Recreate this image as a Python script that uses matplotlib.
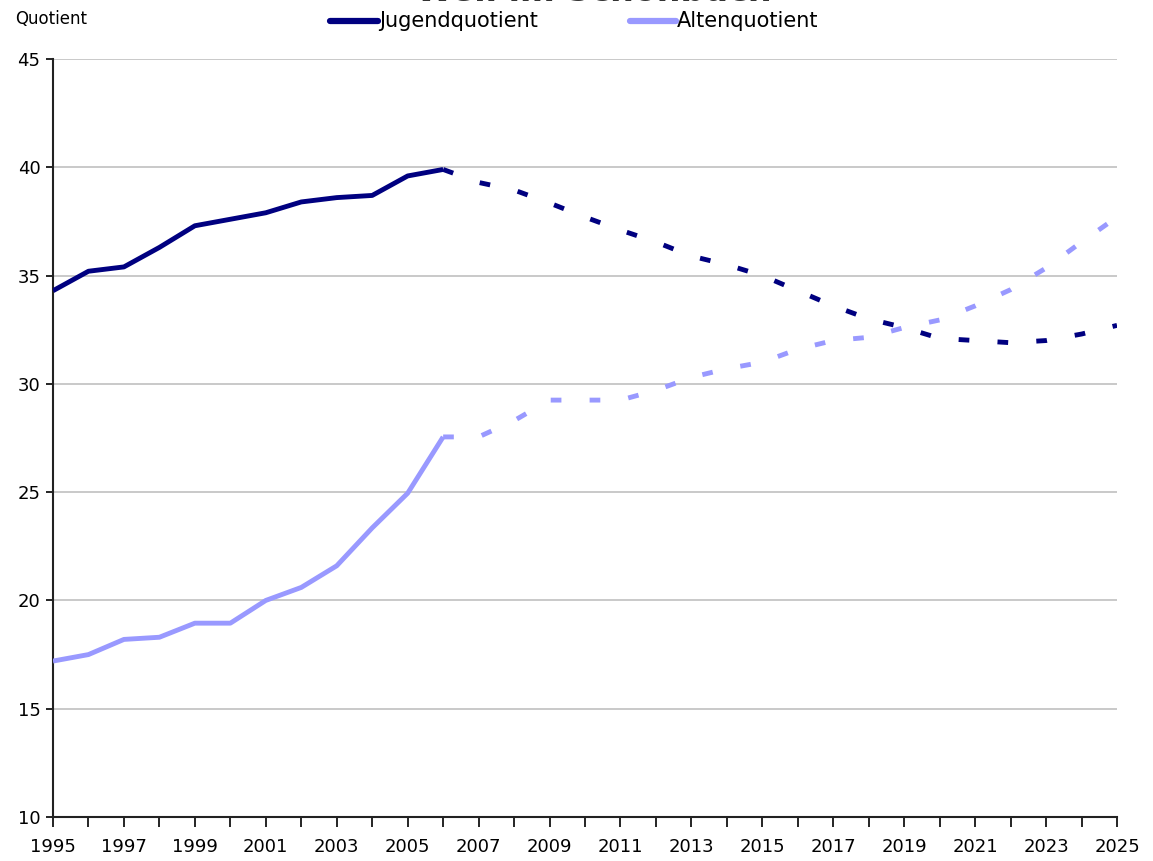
#!/usr/bin/env python3
"""Jugend- und Altenquotient 1995-2025 (ab 2007 Vorausrechnung, gestrichelt)."""
import matplotlib
matplotlib.use("Agg")
import matplotlib.pyplot as plt
from matplotlib.lines import Line2D

years = list(range(1995, 2026))
jugend = [34.3, 35.2, 35.4, 36.3, 37.3, 37.6, 37.9, 38.4, 38.6, 38.7, 39.6, 39.9,
          39.3, 38.95, 38.35, 37.7, 37.1, 36.55, 35.9, 35.5, 35.0, 34.3, 33.6,
          33.0, 32.6, 32.1, 32.0, 31.9, 32.0, 32.3, 32.7]
alten = [17.2, 17.5, 18.2, 18.3, 18.95, 18.95, 20.0, 20.6, 21.6, 23.35, 24.95, 27.55,
         27.55, 28.3, 29.25, 29.25, 29.25, 29.7, 30.3, 30.7, 31.0, 31.6, 32.0,
         32.15, 32.6, 32.95, 33.6, 34.35, 35.35, 36.55, 37.7]
last_actual = 2006
series_names = ["Jugendquotient", "Altenquotient"]
xtick_labels = [str(y) for y in range(1995, 2026, 2)]

c_jugend = "#000080"
c_alten = "#9999ff"

plt.rcParams["font.family"] = ["DejaVu Sans"]

W, H = 1153, 861
fig = plt.figure(figsize=(W / 100, H / 100), dpi=100)
ax = fig.add_axes([53 / W, 1 - 817 / H, 1064 / W, 758 / H])

split = years.index(last_actual) + 1
dash = (0, (2.2, 5.8))
lw = 3.5
for vals, col in ((jugend, c_jugend), (alten, c_alten)):
    ax.plot(years[:split], vals[:split], color=col, lw=lw, solid_capstyle="butt", zorder=3)
    ax.plot(years[split - 1:], vals[split - 1:], color=col, lw=lw, linestyle=dash,
            dash_capstyle="butt", zorder=3)

ax.set_xlim(1995, 2025)
ax.set_ylim(10, 45)
ax.set_yticks(range(10, 46, 5))
ax.set_xticks(years, minor=True)
ax.set_xticks(range(1995, 2026, 2))
ax.set_xticklabels(xtick_labels)
ax.tick_params(axis="x", which="both", direction="out", length=7, width=1.2, pad=8,
               labelsize=13, color="black")
ax.tick_params(axis="y", direction="out", length=5, width=1.2, pad=4, labelsize=13)
ax.grid(axis="y", color="#c0c0c0", lw=1.2)
ax.set_axisbelow(True)
for s in ("top", "right"):
    ax.spines[s].set_visible(False)
for s in ("left", "bottom"):
    ax.spines[s].set_linewidth(1.5)
    ax.spines[s].set_color("#222222")

fig.text(15 / W, 1 - 19 / H, "Quotient", fontsize=12, va="center", ha="left")
# title is clipped at the top edge of the original picture: only its lowest pixels show
fig.text(0.515, 1 - 1 / H, "Weil im Schönbuch", fontsize=24, fontweight="bold",
         ha="center", va="baseline", color="#333333")

# legend drawn by hand in figure pixels, like the original
ly = 1 - 21 / H
for (x0, x1, tx), name, col in zip([(330, 378, 379), (630, 676, 677)], series_names,
                                   [c_jugend, c_alten]):
    fig.add_artist(Line2D([x0 / W, x1 / W], [ly, ly], color=col, lw=4.5,
                          solid_capstyle="round", transform=fig.transFigure))
    fig.text(tx / W, ly, name, fontsize=15, va="center", ha="left")

fig.savefig("out.png", dpi=100)
